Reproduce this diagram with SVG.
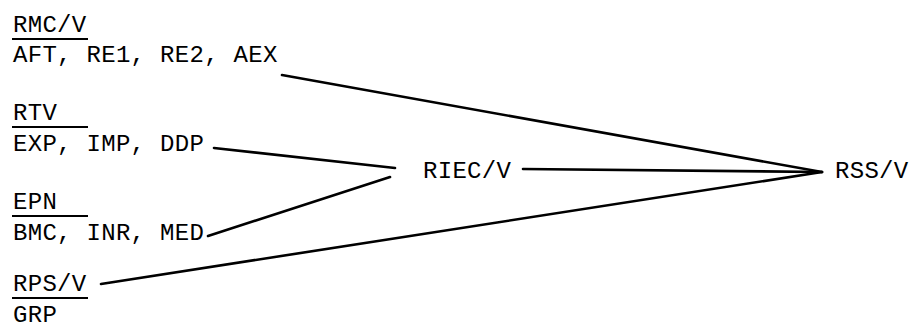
<svg xmlns="http://www.w3.org/2000/svg" width="910" height="332" viewBox="0 0 910 332">
<style>
text{font-family:"Liberation Mono","DejaVu Sans Mono",monospace;font-size:24px;fill:#000;letter-spacing:0.3px}
.u{stroke:#000;stroke-width:2}
.c{stroke:#000;stroke-width:2.6;fill:none;stroke-linecap:round}
</style>
<rect width="910" height="332" fill="#fff"/>
<g id="rmcv"><text x="13" y="32">RMC/V</text><line class="u" x1="12" y1="39" x2="88" y2="39"/><text x="13" y="62">AFT, RE1, RE2, AEX</text></g>
<g id="rtv"><text x="13" y="120">RTV</text><line class="u" x1="12" y1="127" x2="88" y2="127"/><text x="13" y="151">EXP, IMP, DDP</text></g>
<g id="epn"><text x="13" y="209">EPN</text><line class="u" x1="12" y1="216" x2="88" y2="216"/><text x="13" y="240">BMC, INR, MED</text></g>
<g id="rpsv"><text x="13" y="291">RPS/V</text><line class="u" x1="12" y1="298" x2="88" y2="298"/><text x="13" y="322">GRP</text></g>
<g id="riecv"><text x="423" y="178">RIEC/V</text></g>
<g id="rssv"><text x="835" y="178">RSS/V</text></g>
<g id="connectors">
<path class="c" d="M282 75 L822 172"/>
<path class="c" d="M214 148 L395 168"/>
<path class="c" d="M208 236 L390 177"/>
<path class="c" d="M523 169 L822 172"/>
<path class="c" d="M101 284 L822 172"/>
</g>
</svg>
